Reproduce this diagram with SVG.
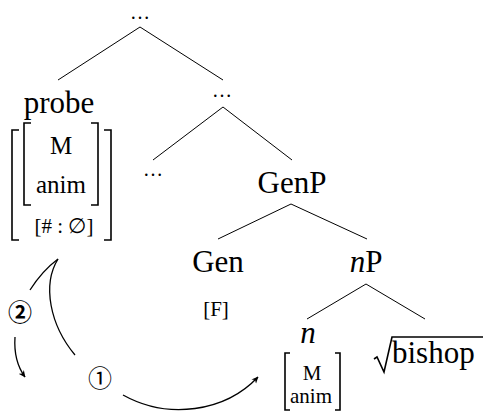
<svg xmlns="http://www.w3.org/2000/svg" width="483" height="419" viewBox="0 0 483 419">
<style>
.t{font-family:"Liberation Serif","Times New Roman",serif;fill:#000;text-anchor:middle}
.big{font-size:31px}
.mid{font-size:25px}
.sm{font-size:21px}
.dots{font-size:20px}
.it{font-style:italic}
.edge{stroke:#000;stroke-width:1;fill:none}
.br{stroke:#000;stroke-width:1.6;fill:none}
.arr{stroke:#000;stroke-width:1.3;fill:none}
.circ{font-family:"Noto Sans CJK JP","DejaVu Sans",sans-serif;font-size:24px;text-anchor:middle;fill:#000}
</style>
<defs>
<marker id="ah" viewBox="0 0 10 10" refX="9" refY="5" markerWidth="7" markerHeight="7" markerUnits="userSpaceOnUse" orient="auto">
<path d="M0,0.5 L10,5 L0,9.5 L3,5 Z" fill="#000"/>
</marker>
</defs>
<rect width="483" height="419" fill="#fff"/>
<g id="connectors">
<path class="edge" d="M140,27 L58,80 M140,27 L223,80"/>
<path class="edge" d="M223,107 L153,160 M223,107 L292,160"/>
<path class="edge" d="M291,204 L218,239 M291,204 L367,239"/>
<path class="edge" d="M366,284 L307,319 M366,284 L425,319"/>
<path class="arr" d="M58,259 C42,285 50,325 75,355"/>
<path class="arr" d="M123,395 C168,420 225,412 258,377" marker-end="url(#ah)"/>
<path class="arr" d="M58,259 C46,268 37,279 30,290"/>
<path class="arr" d="M15,337 C14,352 17,366 25,377" marker-end="url(#ah)"/>
</g>
<g id="root"><text class="t dots" x="140" y="19">…</text></g>
<g id="probe">
<text class="t big" x="59" y="113">probe</text>
<path class="br" d="M19,130 H12 V240 H19 M104,130 H111 V240 H104"/>
<path class="br" d="M31,123 H24 V205 H31 M91,123 H98 V205 H91"/>
<text class="t mid" x="61" y="154">M</text>
<text class="t mid" x="61" y="193">anim</text>
<text class="t sm" x="64" y="233">[# : ∅]</text>
</g>
<g id="mid"><text class="t dots" x="222" y="97">…</text></g>
<g id="leftdots"><text class="t dots" x="153" y="176">…</text></g>
<g id="GenP"><text class="t big" x="292" y="193">GenP</text></g>
<g id="Gen">
<text class="t big" x="218" y="272">Gen</text>
<text class="t sm" x="216" y="316">[F]</text>
</g>
<g id="nP"><text class="t big" x="366" y="272"><tspan class="it">n</tspan>P</text></g>
<g id="n">
<text class="t big it" x="308" y="343">n</text>
<path class="br" d="M290,353 H285 V410 H290 M335,353 H340 V410 H335"/>
<text class="t sm" x="312" y="380">M</text>
<text class="t sm" x="311" y="403">anim</text>
</g>
<g id="bishop">
<path class="br" d="M374,359 L377,357 L384,372 L392,337 H483"/>
<text class="t big" x="392" y="363" style="text-anchor:start">bishop</text>
</g>
<g id="label1"><text class="circ" x="100" y="387">①</text></g>
<g id="label2"><text class="circ" x="20" y="321" font-weight="bold">②</text></g>
</svg>
